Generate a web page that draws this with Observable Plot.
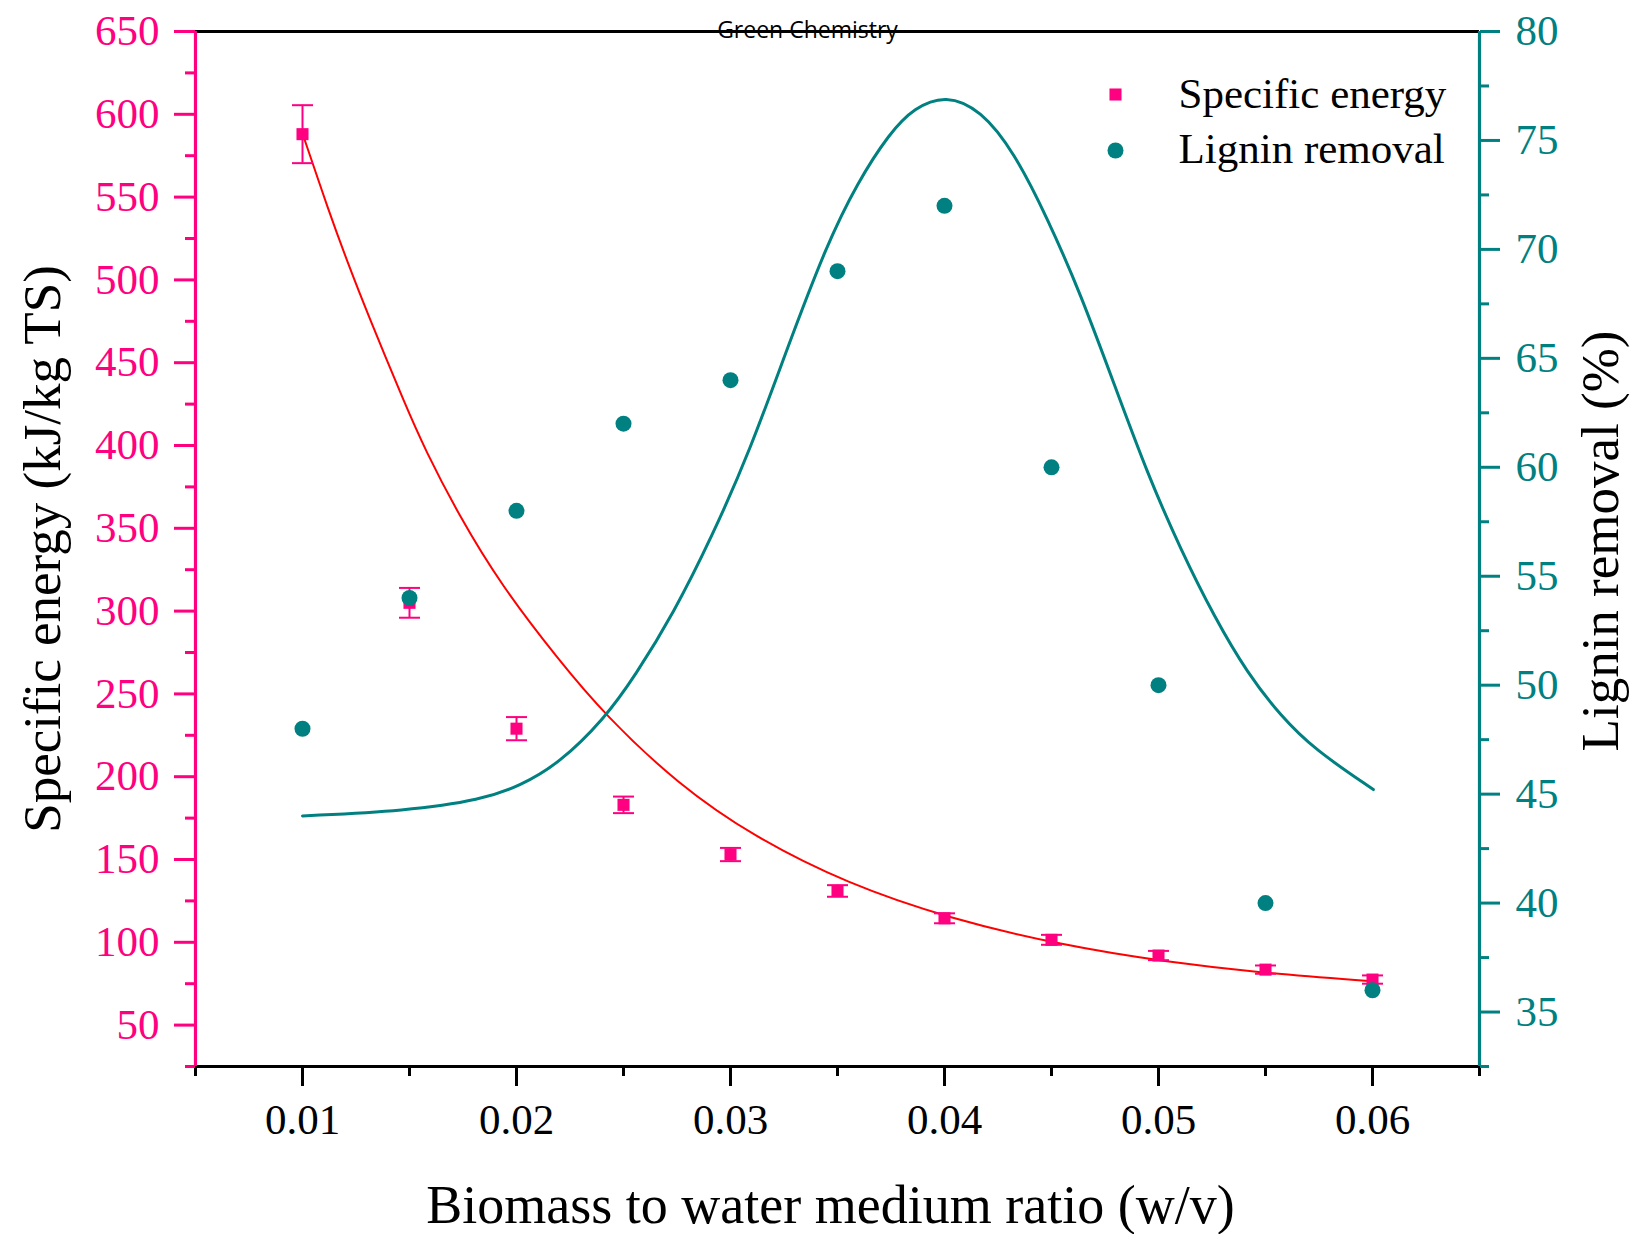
<!DOCTYPE html>
<html>
<head>
<meta charset="utf-8">
<script src="https://cdn.jsdelivr.net/npm/d3@7"></script>
<script src="https://cdn.jsdelivr.net/npm/@observablehq/plot@0.6"></script>
<style>
  html, body { margin: 0; padding: 0; background: #fff; overflow: hidden; }
  #chart { position: absolute; left: 0; top: 0; }
</style>
</head>
<body>
<div id="chart"></div>
<script>
// ---------------- data ----------------
const ratio = [0.01, 0.015, 0.02, 0.025, 0.03, 0.035, 0.04, 0.045, 0.05, 0.055, 0.06];
const specificEnergy = [588, 305, 229, 183, 153, 131, 114.5, 101.5, 92, 83.5, 77.5];
const specificEnergyErr = [17.5, 9, 7, 5, 4, 3.5, 3, 3, 2.8, 2.5, 2.5];
const ligninRemoval = [48, 54, 58, 62, 64, 69, 72, 60, 50, 40, 36];

// fitted curves
const energyFitX = [0.0100, 0.01124, 0.01214, 0.01303, 0.01482, 0.01571, 0.01732, 0.01929, 0.02197, 0.02412, 0.02753, 0.03113, 0.03544, 0.04023, 0.0455, 0.0503, 0.0551, 0.0600];
const energyFitY = [588.5, 541, 509.5, 480, 424, 398, 357.5, 315.5, 270.5, 237.5, 195.5, 163.4, 135.5, 114.3, 98.2, 88.2, 81.1, 76.5];
const ligninFitX = [0.0100, 0.01482, 0.01839, 0.02018, 0.02197, 0.02412, 0.02555, 0.02734, 0.02913, 0.03091, 0.0327, 0.03449, 0.03592, 0.03744, 0.03858, 0.04006, 0.0417, 0.04325, 0.04481, 0.04637, 0.04793, 0.04949, 0.05105, 0.0526, 0.05416, 0.05572, 0.05727, 0.06004];
const ligninFitY = [44.0, 44.23, 44.74, 45.39, 46.39, 48.47, 50.44, 53.30, 56.81, 60.76, 65.59, 70.20, 73.05, 75.35, 76.5, 77.1, 76.4, 74.47, 71.43, 67.94, 63.81, 59.68, 56.2, 53.15, 50.54, 48.58, 47.06, 45.21];

// axes
const xTicks = [0.01, 0.02, 0.03, 0.04, 0.05, 0.06];
const xMinorTicks = [0.005, 0.015, 0.025, 0.035, 0.045, 0.055, 0.065];
const energyTicks = [50, 100, 150, 200, 250, 300, 350, 400, 450, 500, 550, 600, 650];
const energyMinorTicks = [25, 75, 125, 175, 225, 275, 325, 375, 425, 475, 525, 575, 625];
const ligninTicks = [35, 40, 45, 50, 55, 60, 65, 70, 75, 80];
const ligninMinorTicks = [32.5, 37.5, 42.5, 47.5, 52.5, 57.5, 62.5, 67.5, 72.5, 77.5];
const xDomain = [0.005, 0.065];
const energyDomain = [25, 650];
const ligninDomain = [32.5, 80];

const xLabel = "Biomass to water medium ratio (w/v)";
const yLabel = "Specific energy (kJ/kg TS)";
const y2Label = "Lignin removal (%)";
const seriesNames = ["Specific energy", "Lignin removal"];
const watermark = "Green Chemistry";

// ---------------- styles ----------------
const PINK = "#FF0080";
const TEAL = "#008080";
const RED = "#FF0000";
const SERIF = "'Liberation Serif', 'Times New Roman', serif";

// map right-axis values onto left scale domain
const toY = d3.scaleLinear().domain(ligninDomain).range(energyDomain);

const pts = ratio.map((x, i) => ({x, e: specificEnergy[i], err: specificEnergyErr[i], l: ligninRemoval[i]}));
const eFit = energyFitX.map((x, i) => ({x, y: energyFitY[i]}));
const lFit = ligninFitX.map((x, i) => ({x, y: toY(ligninFitY[i])}));

const capSymbol = {
  draw(ctx, size) {
    const r = Math.sqrt(size / Math.PI);
    ctx.moveTo(-r, 0);
    ctx.lineTo(r, 0);
  }
};

const W = 1637, H = 1234;
const mL = 195, mR = 158, mT = 31, mB = 168;

const chart = Plot.plot({
  width: W,
  height: H,
  marginLeft: mL,
  marginRight: mR,
  marginTop: mT,
  marginBottom: mB,
  style: {background: "#fff", fontFamily: SERIF, overflow: "visible"},
  x: {domain: xDomain, label: null},
  y: {domain: energyDomain, label: null},
  marks: [
    // fitted curves
    Plot.line(eFit, {x: "x", y: "y", stroke: RED, strokeWidth: 2, curve: "basis"}),
    Plot.line(lFit, {x: "x", y: "y", stroke: TEAL, strokeWidth: 3, curve: "basis"}),
    // error bars
    Plot.ruleX(pts, {x: "x", y1: d => d.e - d.err, y2: d => d.e + d.err, stroke: PINK, strokeWidth: 2}),
    Plot.dot(pts, {x: "x", y: d => d.e + d.err, symbol: capSymbol, r: 10.5, stroke: PINK, strokeWidth: 2, fill: "none"}),
    Plot.dot(pts, {x: "x", y: d => d.e - d.err, symbol: capSymbol, r: 10.5, stroke: PINK, strokeWidth: 2, fill: "none"}),
    // points
    Plot.dot(pts, {x: "x", y: "e", symbol: "square", r: 6.8, fill: PINK, stroke: "none"}),
    Plot.dot(pts, {x: "x", y: d => toY(d.l), symbol: "circle", r: 8, fill: TEAL, stroke: "none"}),

    // frame lines
    Plot.ruleY([energyDomain[1]], {stroke: "#000", strokeWidth: 3.2}),
    Plot.ruleY([energyDomain[0]], {stroke: "#000", strokeWidth: 3.2}),
    Plot.ruleX([xDomain[0]], {stroke: PINK, strokeWidth: 3.2}),
    Plot.ruleX([xDomain[1]], {stroke: TEAL, strokeWidth: 3.2}),

    // bottom axis
    Plot.axisX({ticks: xTicks, tickSize: 20, tickPadding: 17, tickFormat: d3.format(".2f"), fontSize: 43, fontFamily: SERIF, color: "#000", strokeWidth: 3, label: null}),
    Plot.axisX({ticks: xMinorTicks, tickSize: 10, text: null, color: "#000", strokeWidth: 3, label: null}),
    // left axis
    Plot.axisY({ticks: energyTicks, tickSize: 21, tickPadding: 15, tickFormat: d3.format("d"), fontSize: 43, fontFamily: SERIF, color: PINK, strokeWidth: 3, label: null}),
    Plot.axisY({ticks: energyMinorTicks, tickSize: 10, text: null, color: PINK, strokeWidth: 3, label: null}),
    // right axis
    Plot.axisY({anchor: "right", ticks: ligninTicks.map(toY), tickSize: 20, tickPadding: 16, tickFormat: v => String(Math.round(toY.invert(v))), fontSize: 43, fontFamily: SERIF, color: TEAL, strokeWidth: 3, label: null}),
    Plot.axisY({anchor: "right", ticks: ligninMinorTicks.map(toY), tickSize: 9, text: null, color: TEAL, strokeWidth: 3, label: null}),

    // axis titles
    Plot.text([xLabel], {text: d => d, frameAnchor: "bottom", textAnchor: "middle", lineAnchor: "bottom", dx: -7, dy: 156, fontSize: 54, fontFamily: SERIF, fill: "#000"}),
    Plot.text([yLabel], {text: d => d, frameAnchor: "left", rotate: -90, textAnchor: "middle", lineAnchor: "bottom", dx: -136, dy: 0, fontSize: 53, fontFamily: SERIF, fill: "#000"}),
    Plot.text([y2Label], {text: d => d, frameAnchor: "right", rotate: -90, textAnchor: "middle", lineAnchor: "bottom", dx: 138, dy: -8, fontSize: 53, fontFamily: SERIF, fill: "#000"}),

    // legend
    Plot.dot([seriesNames[0]], {frameAnchor: "top-right", symbol: "square", r: 6.8, fill: PINK, stroke: "none", dx: -364, dy: 63}),
    Plot.dot([seriesNames[1]], {frameAnchor: "top-right", symbol: "circle", r: 8, fill: TEAL, stroke: "none", dx: -364, dy: 119}),
    Plot.text([seriesNames[0]], {text: d => d, frameAnchor: "top-right", textAnchor: "start", lineAnchor: "bottom", dx: -301, dy: 76, fontSize: 43, fontFamily: SERIF, fill: "#000"}),
    Plot.text([seriesNames[1]], {text: d => d, frameAnchor: "top-right", textAnchor: "start", lineAnchor: "bottom", dx: -301, dy: 131, fontSize: 43, fontFamily: SERIF, fill: "#000"}),

    // watermark
    Plot.text([watermark], {text: d => d, frameAnchor: "top", textAnchor: "middle", lineAnchor: "bottom", dx: -30, dy: 6, fontSize: 23, fontFamily: "'Open Sans', 'Noto Sans', sans-serif", fill: "#000"})
  ]
});

document.getElementById("chart").appendChild(chart);
</script>
</body>
</html>
